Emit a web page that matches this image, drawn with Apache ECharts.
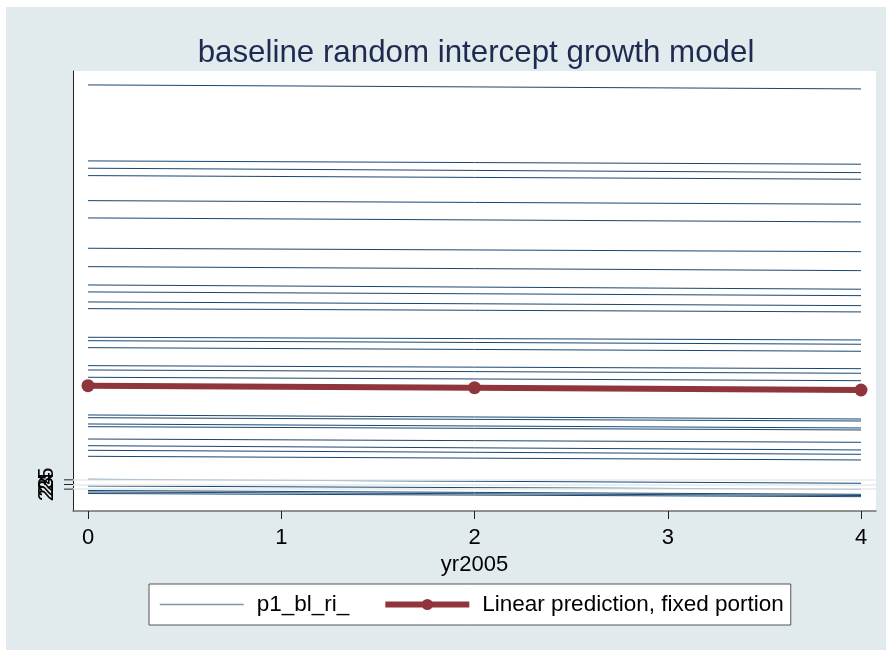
<!DOCTYPE html>
<html>
<head>
<meta charset="utf-8">
<script src="https://cdn.jsdelivr.net/npm/echarts@6/dist/echarts.min.js"></script>
<style>
  html, body { margin: 0; padding: 0; background: #ffffff; }
  #chart { width: 886px; height: 650px; }
</style>
</head>
<body>
<div id="chart"></div>
<script>
// Axis ticks
const xTicks = [0, 1, 2, 3, 4];
const yTicks = [23, 24, 25];
const yTickLabels = ['23', '24', '25'];

// Fixed-portion linear prediction at the observed waves
const waveYears = [0, 2, 4];
const fixedPortion = [45.25, 44.80, 44.32];

// Subject-level predictions (p1_bl_ri_) at the first and last wave
const subjectYears = [0, 4];
const subjectAtStart = [109.91, 93.57, 92.00, 90.41, 85.03, 81.31, 74.79, 70.84, 66.90, 65.40,
  63.25, 61.81, 55.65, 54.92, 53.42, 49.55, 48.62, 47.05, 38.95, 38.36,
  37.01, 36.43, 33.78, 32.34, 31.35, 30.06, 25.12, 23.68, 22.71, 22.39, 22.06];
const subjectAtEnd = [109.05, 92.86, 91.05, 89.63, 84.26, 80.45, 74.06, 69.98, 65.98, 64.60,
  62.45, 61.10, 55.07, 54.15, 52.64, 48.90, 47.91, 46.32, 38.08, 37.65,
  36.15, 35.72, 33.07, 31.42, 30.49, 29.27, 24.26, 22.97, 21.89, 21.63, 21.38];

const FONT = '"Liberation Sans", Arial, Helvetica, sans-serif';
const NAVY = '#1a476f';
const MAROON = '#90353b';
const SUBJECT_NAME = 'p1_bl_ri_';
const FIXED_NAME = 'Linear prediction, fixed portion';
const GRID_LEFT = 73;

const chart = echarts.init(document.getElementById('chart'), null, { renderer: 'canvas' });

const series = [];
// light grid lines at the labelled y values
series.push({
  type: 'line', data: [], silent: true, z: 1,
  markLine: {
    silent: true, symbol: 'none', animation: false,
    label: { show: false },
    lineStyle: { color: '#e3ebee', width: 1.5, type: 'solid' },
    data: yTicks.map(v => ({ yAxis: v }))
  }
});
subjectAtStart.forEach((v, i) => {
  series.push({
    name: SUBJECT_NAME, type: 'line', silent: true, z: 2,
    data: [[subjectYears[0], v], [subjectYears[1], subjectAtEnd[i]]],
    symbol: 'none', showSymbol: false,
    lineStyle: { color: NAVY, width: 1 },
    itemStyle: { color: NAVY }
  });
});
series.push({
  name: FIXED_NAME, type: 'line', z: 3,
  data: waveYears.map((t, i) => [t, fixedPortion[i]]),
  symbol: 'circle', symbolSize: 13, showSymbol: true,
  lineStyle: { color: MAROON, width: 6 },
  itemStyle: { color: MAROON }
});

const baseGraphics = [
  { type: 'rect', z: -10, silent: true, shape: { x: 6, y: 7, width: 880, height: 643 }, style: { fill: '#e1eaed' } },
  { type: 'text', z: 10, silent: true, x: 476, y: 53,
    style: { text: 'baseline random intercept growth model', font: '31.3px ' + FONT,
             fill: '#1e2a50', textAlign: 'center', textVerticalAlign: 'middle' } }
];

chart.setOption({
  animation: false,
  backgroundColor: '#ffffff',
  graphic: baseGraphics,
  grid: {
    left: GRID_LEFT, right: 10, top: 71, bottom: 139,
    show: true, backgroundColor: '#ffffff', borderWidth: 0,
    containLabel: false, outerBoundsMode: 'none'
  },
  xAxis: {
    type: 'value', min: -0.0776, max: 4.0776,
    name: 'yr2005', nameLocation: 'middle', nameGap: 37,
    nameTextStyle: { fontFamily: FONT, fontSize: 22, color: '#000' },
    axisLine: { show: true, onZero: false, lineStyle: { color: '#6e6e6e', width: 1.5 } },
    axisTick: { show: true, length: 8, customValues: xTicks, lineStyle: { color: '#222', width: 1 } },
    axisLabel: { show: true, customValues: xTicks, margin: 16, fontFamily: FONT, fontSize: 22, color: '#000' },
    splitLine: { show: false }
  },
  yAxis: {
    type: 'value', min: 18.3, max: 112.9,
    axisLine: { show: true, onZero: false, lineStyle: { color: '#222', width: 1 } },
    axisTick: { show: false },
    axisLabel: { show: false },
    splitLine: { show: false }
  },
  legend: {
    data: [
      { name: SUBJECT_NAME, itemStyle: { opacity: 0 }, lineStyle: { color: '#7f95ad', width: 1.5 } },
      { name: FIXED_NAME, lineStyle: { color: MAROON, width: 6 } }
    ],
    left: 149, top: 584, orient: 'horizontal',
    itemWidth: 84, itemHeight: 14, itemGap: 33,
    padding: [9, 7, 9, 10],
    backgroundColor: '#ffffff', borderColor: '#555555', borderWidth: 1,
    textStyle: { fontFamily: FONT, fontSize: 22.5, color: '#000', padding: [0, 0, 0, 8] },
    selectedMode: false
  },
  tooltip: { show: false },
  series: series
});

// y-axis ticks and vertical tick labels, placed through the axis scale
const yTickGraphics = [];
yTicks.forEach((v, i) => {
  const py = chart.convertToPixel({ yAxisIndex: 0 }, v);
  yTickGraphics.push({
    type: 'line', silent: true, z: 5,
    shape: { x1: GRID_LEFT - 9, y1: py, x2: GRID_LEFT, y2: py },
    style: { stroke: '#222', lineWidth: 1 }
  });
  yTickGraphics.push({
    type: 'text', silent: true, z: 5, x: GRID_LEFT - 26, y: py, rotation: Math.PI / 2,
    style: { text: yTickLabels[i], font: '22px ' + FONT, fill: '#000',
             textAlign: 'center', textVerticalAlign: 'middle' }
  });
});
chart.setOption({ graphic: baseGraphics.concat(yTickGraphics) });
</script>
</body>
</html>
